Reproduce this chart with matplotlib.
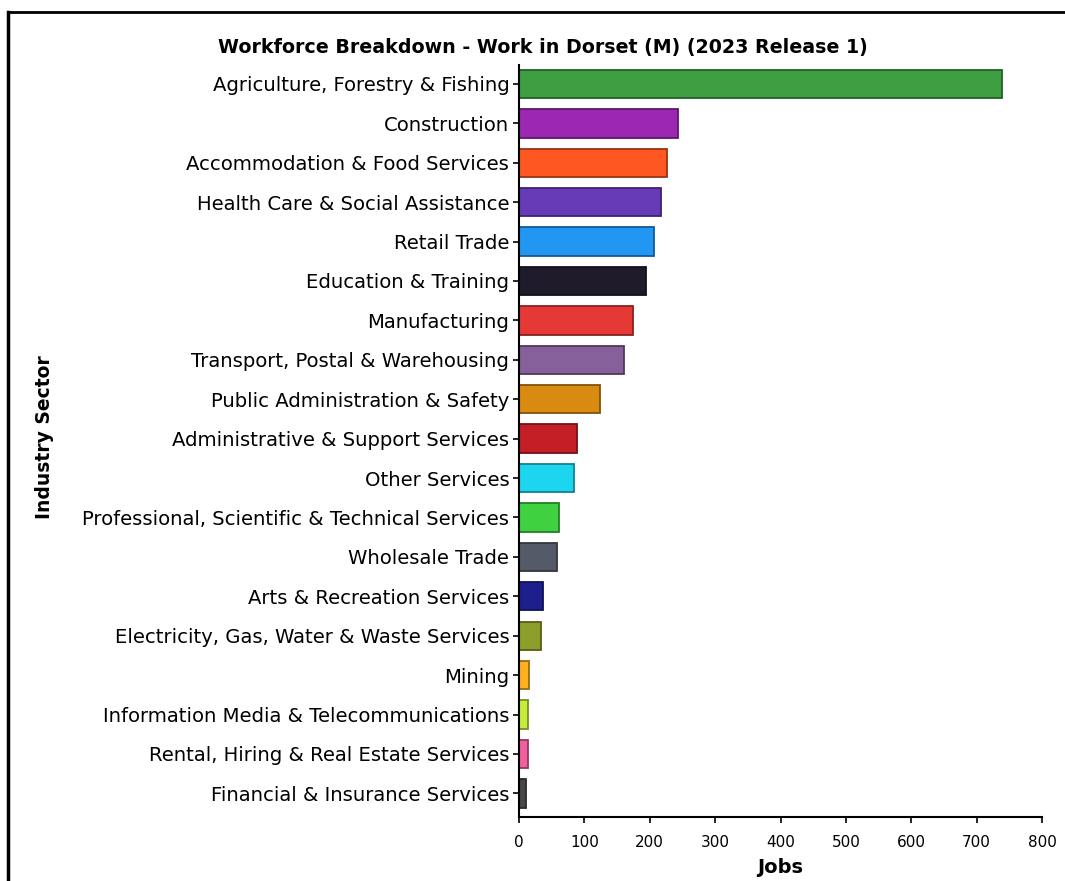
import matplotlib
matplotlib.use("Agg")
import matplotlib.pyplot as plt
from matplotlib.colors import to_rgb
from matplotlib.lines import Line2D

plt.rcParams['font.family'] = ['DejaVu Sans']

sectors = [
    "Agriculture, Forestry & Fishing",
    "Construction",
    "Accommodation & Food Services",
    "Health Care & Social Assistance",
    "Retail Trade",
    "Education & Training",
    "Manufacturing",
    "Transport, Postal & Warehousing",
    "Public Administration & Safety",
    "Administrative & Support Services",
    "Other Services",
    "Professional, Scientific & Technical Services",
    "Wholesale Trade",
    "Arts & Recreation Services",
    "Electricity, Gas, Water & Waste Services",
    "Mining",
    "Information Media & Telecommunications",
    "Rental, Hiring & Real Estate Services",
    "Financial & Insurance Services",
]
jobs = [739, 243, 227, 217, 207, 195, 175, 161, 124, 89, 84, 61, 58, 37, 34, 15, 14, 14, 11]
colors = [
    "#3e9e42", "#9c27b0", "#ff5722", "#673ab7", "#2196f3", "#1f1b2b",
    "#e53935", "#86609a", "#d98a10", "#c41e26", "#1cd6f0", "#3fd13f",
    "#555a68", "#1d1f8c", "#8e9e2a", "#ffb020", "#c8ec3c", "#f0609e",
    "#474747",
]
x_ticks = [0, 100, 200, 300, 400, 500, 600, 700, 800]


def darker(c, f=0.6):
    r, g, b = to_rgb(c)
    return (r * f, g * f, b * f)


W, H = 1065, 881
fig = plt.figure(figsize=(W / 100, H / 100), dpi=100)
ax = fig.add_axes([519 / W, (H - 817) / H, (1042 - 519) / W, (817 - 65) / H])

ypos = list(range(len(sectors)))
ax.barh(ypos, jobs, height=0.72, color=colors,
        edgecolor=[darker(c) for c in colors], linewidth=1.3)

ax.set_ylim(len(sectors) - 1 + 0.6, -0.48)
ax.set_xlim(0, 800)
ax.set_yticks(ypos)
ax.set_yticklabels(sectors, fontsize=14.1)
ax.set_xticks(x_ticks)
ax.set_xticklabels([str(t) for t in x_ticks], fontsize=11)
ax.tick_params(axis='y', length=4, width=1.2, color='black', pad=3)
ax.tick_params(axis='x', length=4, width=1.2, color='black', pad=9)

for s in ['top', 'right']:
    ax.spines[s].set_visible(False)
for s in ['left', 'bottom']:
    ax.spines[s].set_linewidth(1.5)

ax.set_title("Workforce Breakdown - Work in Dorset (M) (2023 Release 1)",
             fontsize=13.7, fontweight='bold', pad=9, x=0.045, ha='center')
ax.set_xlabel("Jobs", fontsize=14, fontweight='bold', labelpad=6)
fig.text(45 / W, 1 - 437 / H, "Industry Sector", rotation=90, fontsize=13.5,
         fontweight='bold', ha='center', va='center')

# outer frame (top and left edges)
fig.add_artist(Line2D([8 / W, 1.0], [1 - 12 / H, 1 - 12 / H], color='black',
                      linewidth=2, transform=fig.transFigure))
fig.add_artist(Line2D([8 / W, 8 / W], [0.0, 1 - 12 / H], color='black',
                      linewidth=2.5, transform=fig.transFigure))

fig.savefig("out.png", dpi=100)
